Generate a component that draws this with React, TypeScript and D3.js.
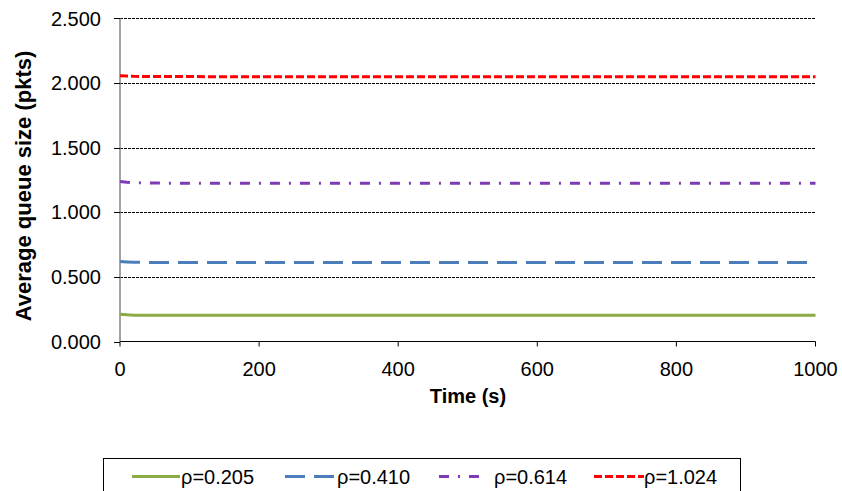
import React from "react";
import * as d3 from "d3";

const times = [0, 10, 20, 40, 60, 100, 200, 300, 400, 500, 600, 700, 800, 900, 1000];
const rho0205 = [0.211, 0.206, 0.204, 0.203, 0.204, 0.203, 0.203, 0.203, 0.203, 0.203, 0.203, 0.203, 0.203, 0.203, 0.203];
const rho0410 = [0.618, 0.615, 0.613, 0.612, 0.612, 0.612, 0.612, 0.612, 0.612, 0.612, 0.612, 0.612, 0.612, 0.612, 0.612];
const rho0614 = [1.238, 1.232, 1.228, 1.226, 1.225, 1.224, 1.224, 1.224, 1.224, 1.224, 1.224, 1.224, 1.224, 1.224, 1.224];
const rho1024 = [2.056, 2.053, 2.051, 2.05, 2.049, 2.049, 2.048, 2.048, 2.048, 2.048, 2.048, 2.048, 2.048, 2.048, 2.048];

const seriesNames = ["ρ=0.205", "ρ=0.410", "ρ=0.614", "ρ=1.024"];
const seriesValues = [rho0205, rho0410, rho0614, rho1024];
const seriesColors = ["#8AAB45", "#4A7EBB", "#7D3CB5", "#FF0000"];
const seriesDash = ["none", "20 9", "10 9 2 9", "8 3"];

const yTicks = [0, 0.5, 1, 1.5, 2, 2.5];
const xTicks = [0, 200, 400, 600, 800, 1000];

const legendLine = [
  { x1: 132, x2: 180, tx: 181 },
  { x1: 285, x2: 337, tx: 337 },
  { x1: 439, x2: 479, tx: 494 },
  { x1: 594, x2: 644, tx: 644 },
];

export default function App() {
  const left = 120, right = 815.5, top = 18.3, bottom = 341.5;
  const x = d3.scaleLinear().domain([0, 1000]).range([left, right]);
  const y = d3.scaleLinear().domain([0, 2.5]).range([bottom, top]);
  const line = d3
    .line<number>()
    .x((_, i) => x(times[i]))
    .y((d) => y(d));
  const font = "Arial, 'Liberation Sans', sans-serif";

  return (
    <svg
      width={842}
      height={491}
      style={{ position: "fixed", left: 0, top: 0, background: "#fff", display: "block" }}
      fontFamily={font}
    >
      <rect x={0} y={0} width={842} height={491} fill="#fff" />
      {/* gridlines */}
      {yTicks.filter((t) => t > 0).map((t) => (
        <line
          key={t}
          x1={left}
          x2={right}
          y1={Math.round(y(t)) + 0.5}
          y2={Math.round(y(t)) + 0.5}
          stroke="#000"
          strokeWidth={1}
          strokeDasharray="3 1"
        />
      ))}
      {/* y axis */}
      <line x1={left} x2={left} y1={top} y2={bottom} stroke="#868686" strokeWidth={1.5} />
      {yTicks.map((t) => (
        <g key={t}>
          <line x1={left - 6} x2={left} y1={Math.round(y(t)) + 0.5} y2={Math.round(y(t)) + 0.5} stroke="#000" strokeWidth={1} />
          <text x={101} y={y(t)} dy="0.36em" textAnchor="end" fontSize={20} fill="#000">
            {d3.format(".3f")(t)}
          </text>
        </g>
      ))}
      {/* x axis */}
      <line x1={left} x2={right} y1={bottom} y2={bottom} stroke="#000" strokeWidth={1} />
      {xTicks.map((t) => (
        <g key={t}>
          <line x1={x(t)} x2={x(t)} y1={bottom} y2={bottom + 5} stroke="#000" strokeWidth={1} />
          <text x={x(t)} y={376} textAnchor="middle" fontSize={20} fill="#000">
            {t}
          </text>
        </g>
      ))}
      {/* series */}
      {seriesValues.map((vals, i) => (
        <path
          key={i}
          d={line(vals) || ""}
          fill="none"
          stroke={seriesColors[i]}
          strokeWidth={3}
          strokeDasharray={seriesDash[i]}
        />
      ))}
      {/* axis titles */}
      <text x={468} y={403} textAnchor="middle" fontSize={20} fontWeight="bold" fill="#000">
        Time (s)
      </text>
      <text
        transform="translate(31,186) rotate(-90)"
        textAnchor="middle"
        fontSize={22}
        fontWeight="bold"
        fill="#000"
      >
        Average queue size (pkts)
      </text>
      {/* legend */}
      <rect x={103.5} y={458.5} width={637} height={40} fill="#fff" stroke="#000" strokeWidth={1} />
      {seriesNames.map((n, i) => (
        <g key={n}>
          <line
            x1={legendLine[i].x1}
            x2={legendLine[i].x2}
            y1={476.5}
            y2={476.5}
            stroke={seriesColors[i]}
            strokeWidth={3}
            strokeDasharray={seriesDash[i]}
          />
          <text x={legendLine[i].tx} y={476.5} dy="0.36em" fontSize={20} fill="#000">
            {n}
          </text>
        </g>
      ))}
    </svg>
  );
}
